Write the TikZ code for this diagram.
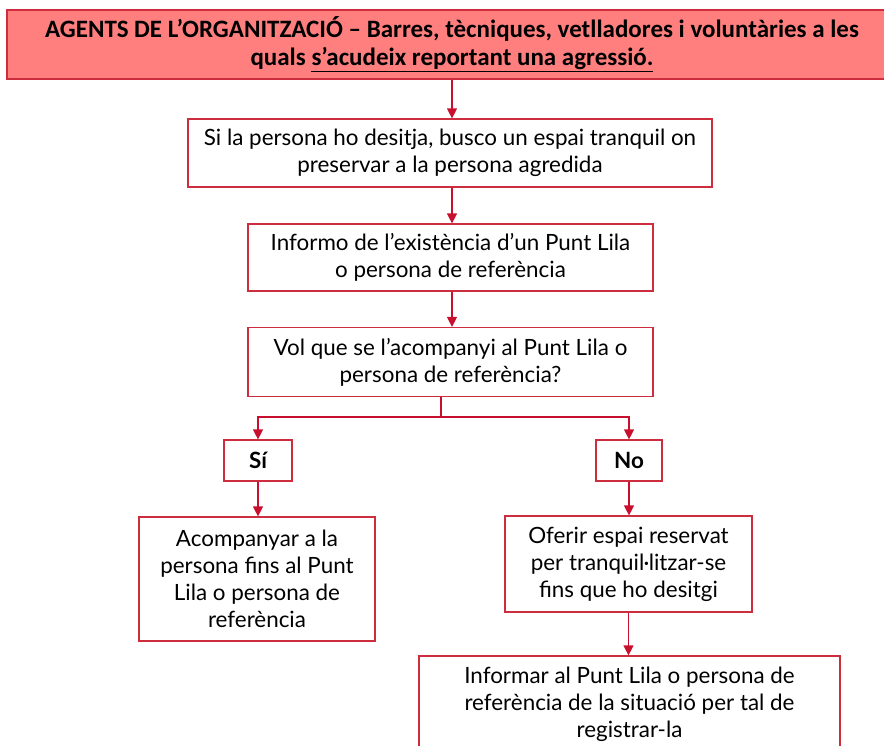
\documentclass[tikz,border=0pt]{standalone}
\usepackage{fontspec}
\setmainfont{Lato}
\newfontfamily\hdfont{Carlito}
\usetikzlibrary{arrows.meta}
\definecolor{bord}{RGB}{205,45,60}
\definecolor{arr}{RGB}{200,16,46}
\definecolor{hdfill}{RGB}{255,127,127}
\begin{document}
\begin{tikzpicture}[x=1pt,y=-1pt,
  box/.style={draw=bord,line width=1.2pt,fill=white,align=center,inner sep=0pt,
    font=\fontsize{22.4}{27}\selectfont,text=black},
  arrline/.style={draw=arr,line width=1.2pt},
  arrow/.style={arrline,-{Triangle[width=10pt,length=10pt]}}]
\useasboundingbox (0,0) rectangle (884,745);
\node[box,fill=hdfill,minimum width=890pt,minimum height=69pt,
  font=\hdfont\bfseries\fontsize{25}{28}\selectfont] (top) at (452,44.5)
  {AGENTS DE L’ORGANITZACIÓ – Barres, tècniques, vetlladores i voluntàries a les\\
   quals \underline{s’acudeix reportant una agressió.}};
\node[box,minimum width=524pt,minimum height=68pt] (b2) at (450,153)
  {Si la persona ho desitja, busco un espai tranquil on\\preservar a la persona agredida};
\node[box,minimum width=405pt,minimum height=67pt] (b3) at (450.5,257.5)
  {Informo de l’existència d’un Punt Lila\\o persona de referència};
\node[box,minimum width=405pt,minimum height=69pt] (b4) at (450.5,362)
  {Vol que se l’acompanyi al Punt Lila o\\persona de referència?};
\node[box,minimum width=68pt,minimum height=41pt,font=\bfseries\fontsize{22.4}{27}\selectfont] (si) at (258,460.5) {Sí};
\node[box,minimum width=66pt,minimum height=41pt,font=\bfseries\fontsize{22.4}{27}\selectfont] (no) at (629,460.5) {No};
\node[box,minimum width=236pt,minimum height=124pt] (acomp) at (257,579)
  {Acompanyar a la\\persona fins al Punt\\Lila o persona de\\referència};
\node[box,minimum width=247pt,minimum height=96pt] (of) at (628.5,564)
  {Oferir espai reservat\\per tranquil·litzar-se\\fins que ho desitgi};
\node[box,minimum width=421pt,minimum height=96pt] (inf) at (629.5,704)
  {Informar al Punt Lila o persona de\\referència de la situació per tal de\\registrar-la};
\draw[arrow] (top.south) -- (top.south |- b2.north);
\draw[arrow] (b2.south -| top.south) -- (top.south |- b3.north);
\draw[arrow] (b3.south -| top.south) -- (top.south |- b4.north);
\coordinate (j) at (441,417);
\draw[arrline] (j |- b4.south) -- (j);
\draw[arrow] (j) -| (si.north);
\draw[arrow] (j) -| (no.north);
\draw[arrow] (si.south) -- (si.south |- acomp.north);
\draw[arrow] (no.south) -- (no.south |- of.north);
\draw[arrow] (of.south) -- (of.south |- inf.north);
\end{tikzpicture}
\end{document}
